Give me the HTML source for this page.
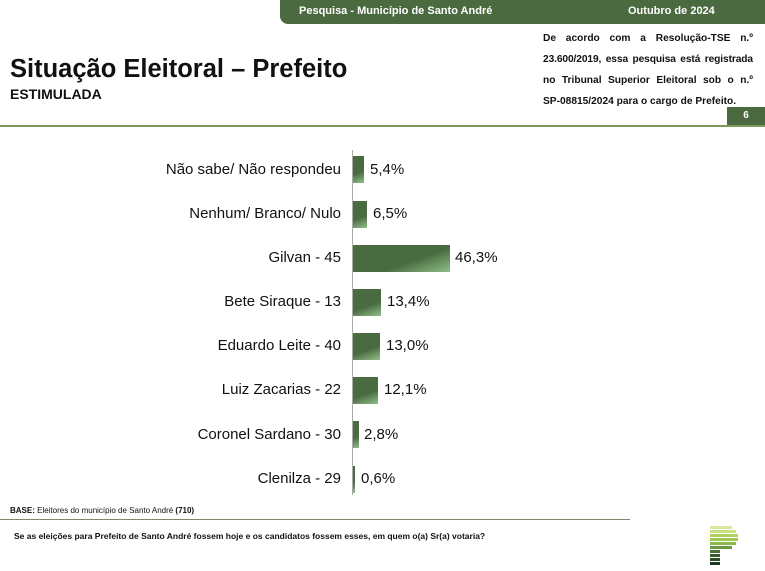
<!DOCTYPE html>
<html><head><meta charset="utf-8"><style>
body{margin:0;width:765px;height:571px;background:#fff;position:relative;overflow:hidden;font-family:"Liberation Sans",sans-serif}
.a{position:absolute}
.hdr{left:280px;top:0;width:485px;height:24px;background:#4b6a40;border-bottom-left-radius:8px;color:#fff;font-weight:bold;font-size:11px}
.lbl{right:424px;font-size:15px;color:#111;text-align:right;white-space:nowrap}
.bar{left:353px;height:27px;background:linear-gradient(160deg,#4a6a3f 0%,#4a6a3f 60%,#8fc08a 100%)}
.val{font-size:15px;color:#111}
.j{display:block;width:210px;text-align:justify;text-align-last:justify;white-space:nowrap;height:21px}
</style></head><body>
<div class="a hdr"><span class="a" style="left:19px;top:5px">Pesquisa - Município de Santo André</span><span class="a" style="left:348px;top:5px">Outubro de 2024</span></div>
<div class="a" style="left:10px;top:55px;font-size:25.5px;font-weight:bold;color:#111">Situação Eleitoral – Prefeito</div>
<div class="a" style="left:10px;top:86px;font-size:14px;font-weight:bold;color:#111">ESTIMULADA</div>
<div class="a" style="left:543px;top:28px;width:210px;font-size:10.2px;font-weight:bold;line-height:21px;color:#111">
<span class="j">De acordo com a Resolução-TSE n.º</span>
<span class="j" style="letter-spacing:-0.1px">23.600/2019, essa pesquisa está registrada</span>
<span class="j">no Tribunal Superior Eleitoral sob o n.º</span>
<span style="display:block;white-space:nowrap">SP-08815/2024 para o cargo de Prefeito.</span>
</div>
<div class="a" style="left:727px;top:107px;width:38px;height:18px;background:#4b6a40;color:#fff;font-size:10px;font-weight:bold;text-align:center;line-height:18px">6</div>
<div class="a" style="left:0;top:125px;width:765px;height:2px;background:#7a9a5a"></div>
<div class="a" style="left:352px;top:150px;width:1px;height:345px;background:#aaa"></div>
<div class="a lbl" style="top:161px">Não sabe/ Não respondeu</div><div class="a bar" style="top:156px;width:11px"></div><div class="a val" style="left:370px;top:161px">5,4%</div>
<div class="a lbl" style="top:205px">Nenhum/ Branco/ Nulo</div><div class="a bar" style="top:201px;width:14px"></div><div class="a val" style="left:373px;top:205px">6,5%</div>
<div class="a lbl" style="top:249px">Gilvan - 45</div><div class="a bar" style="top:245px;width:97px"></div><div class="a val" style="left:455px;top:249px">46,3%</div>
<div class="a lbl" style="top:293px">Bete Siraque - 13</div><div class="a bar" style="top:289px;width:28px"></div><div class="a val" style="left:387px;top:293px">13,4%</div>
<div class="a lbl" style="top:337px">Eduardo Leite - 40</div><div class="a bar" style="top:333px;width:27px"></div><div class="a val" style="left:386px;top:337px">13,0%</div>
<div class="a lbl" style="top:381px">Luiz Zacarias - 22</div><div class="a bar" style="top:377px;width:25px"></div><div class="a val" style="left:384px;top:381px">12,1%</div>
<div class="a lbl" style="top:426px">Coronel Sardano - 30</div><div class="a bar" style="top:421px;width:6px"></div><div class="a val" style="left:364px;top:426px">2,8%</div>
<div class="a lbl" style="top:470px">Clenilza - 29</div><div class="a bar" style="top:466px;width:2px"></div><div class="a val" style="left:361px;top:470px">0,6%</div>
<div class="a" style="left:10px;top:506px;font-size:8px;color:#111"><b>BASE:</b> Eleitores do município de Santo André <b>(710)</b></div>
<div class="a" style="left:0;top:519px;width:630px;height:1px;background:#7a8a6a"></div>
<div class="a" style="left:14px;top:531px;font-size:8.5px;font-weight:bold;color:#111">Se as eleições para Prefeito de Santo André fossem hoje e os candidatos fossem esses, em quem o(a) Sr(a) votaria?</div>
<div class="a" style="left:710px;top:526px;width:30px">
<div style="height:3px;width:22px;background:#d8e8a0;margin-bottom:1px"></div>
<div style="height:3px;width:26px;background:#c8e080;margin-bottom:1px"></div>
<div style="height:3px;width:28px;background:#b0d060;margin-bottom:1px"></div>
<div style="height:3px;width:28px;background:#a0c850;margin-bottom:1px"></div>
<div style="height:3px;width:26px;background:#88b848;margin-bottom:1px"></div>
<div style="height:3px;width:22px;background:#6a9a40;margin-bottom:1px"></div>
<div style="height:3px;width:10px;background:#4a7038;margin-bottom:1px"></div>
<div style="height:3px;width:10px;background:#3a5a30;margin-bottom:1px"></div>
<div style="height:3px;width:10px;background:#2a4a28;margin-bottom:1px"></div>
<div style="height:3px;width:10px;background:#1e3a20"></div>
</div>
</body></html>
